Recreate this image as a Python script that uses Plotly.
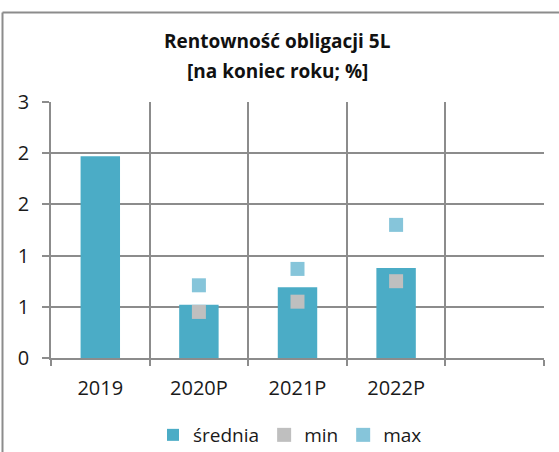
import plotly.graph_objects as go

categories = ["2019", "2020P", "2021P", "2022P", " "]
srednia = [1.97, 0.52, 0.69, 0.88, None]
min_vals = [None, 0.45, 0.55, 0.75, None]
max_vals = [None, 0.71, 0.87, 1.30, None]
y_tickvals = [0, 0.5, 1, 1.5, 2, 2.5]
y_ticktext = ["0", "1", "1", "2", "2", "3"]
title_lines = ["Rentowność obligacji 5L", "[na koniec roku; %]"]

W, H = 559, 452
L, R, T, B = 51, 15, 102, 94
pw, ph = W - L - R, H - T - B


def px_x(x):
    return (x - L) / pw


def px_y(y):
    return (H - B - y) / ph


GRID = "#8c8c8c"
FONT = "Open Sans"

fig = go.Figure()
fig.add_trace(go.Bar(x=categories, y=srednia, name="średnia",
                     marker=dict(color="#4BACC6", line=dict(width=0)), width=0.4))
fig.add_trace(go.Scatter(x=categories, y=min_vals, name="min", mode="markers",
                         marker=dict(symbol="square", size=14, color="#BFBFBF")))
fig.add_trace(go.Scatter(x=categories, y=max_vals, name="max", mode="markers",
                         marker=dict(symbol="square", size=14, color="#86C5DA")))

fig.update_layout(
    width=W, height=H,
    margin=dict(l=L, r=R, t=T, b=B, autoexpand=False),
    paper_bgcolor="white", plot_bgcolor="white",
    font=dict(family=FONT, size=20, color="#1a1a1a"),
    showlegend=True,
    legend=dict(orientation="h", x=px_x(290), xanchor="center",
                y=px_y(435), yanchor="middle", font=dict(size=19),
                itemwidth=30, tracegroupgap=0),
    xaxis=dict(type="category", categoryorder="array", categoryarray=categories,
               range=[-0.5, 4.5], tickson="boundaries", showgrid=True,
               gridcolor=GRID, gridwidth=1.5, ticks="outside", ticklen=6,
               tickcolor=GRID, tickwidth=1.5, showline=True, linecolor=GRID,
               linewidth=1.5, ticklabelstandoff=11, fixedrange=True,
               automargin=False),
    yaxis=dict(range=[0, 2.5], tickvals=y_tickvals, ticktext=y_ticktext,
               showgrid=True, gridcolor=GRID, gridwidth=1.5, ticks="outside",
               ticklen=7, tickcolor=GRID, tickwidth=1.5, showline=True,
               linecolor=GRID, linewidth=1.5, zeroline=False,
               ticklabelstandoff=9, fixedrange=True, automargin=False),
)

for i, (txt, yy) in enumerate(zip(title_lines, [41, 71])):
    fig.add_annotation(text="<b>" + txt + "</b>", xref="paper", yref="paper",
                       x=px_x(277), y=px_y(yy), xanchor="center", yanchor="middle",
                       showarrow=False, font=dict(size=19, family=FONT, color="#111"))

# chart area border (left and top visible)
bx, by = px_x(2.5), px_y(12.5)
fig.add_shape(type="line", xref="paper", yref="paper", x0=bx, x1=bx, y0=px_y(460), y1=by,
              line=dict(color=GRID, width=2), layer="above")
fig.add_shape(type="line", xref="paper", yref="paper", x0=bx, x1=px_x(565), y0=by, y1=by,
              line=dict(color=GRID, width=2), layer="above")

fig.write_html("out.html", config={"displayModeBar": False},
               post_script="document.body.style.margin='0';")
